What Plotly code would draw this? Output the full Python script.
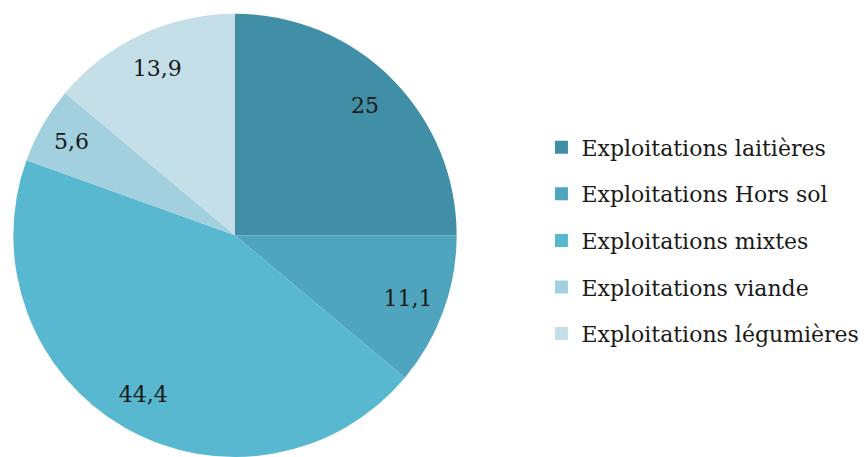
import plotly.graph_objects as go

categories = ["Exploitations laitières", "Exploitations Hors sol", "Exploitations mixtes",
              "Exploitations viande", "Exploitations légumières"]
values = [25, 11.1, 44.4, 5.6, 13.9]
colors = ["#418FA7", "#4FA5BD", "#57B8D0", "#A3D0DE", "#C5DFE9"]

FONT = "DejaVu Serif"
DOM = dict(x=[12/867, 458/867], y=[0, 0.97])

fig = go.Figure()
# coloured pie
fig.add_trace(go.Pie(
    labels=categories, values=values, sort=False, direction="clockwise", rotation=0,
    marker=dict(colors=colors, line=dict(width=0)),
    textinfo="none", domain=DOM, showlegend=False, hoverinfo="skip",
))
# transparent ring carrying the value labels (places them toward the rim)
fig.add_trace(go.Pie(
    labels=categories, values=values, sort=False, direction="clockwise", rotation=0,
    hole=0.66,
    marker=dict(colors=["rgba(0,0,0,0)"] * len(values), line=dict(width=0)),
    texttemplate="%{value}", textposition="inside", insidetextorientation="horizontal",
    textfont=dict(family=FONT, size=22, color="#1a1a1a"),
    domain=DOM, showlegend=False, hoverinfo="skip",
))
for i, (c, col) in enumerate(zip(categories, colors)):
    fig.add_trace(go.Scatter(
        x=[None], y=[None], mode="markers", name=c, legendgroup=f"g{i}",
        marker=dict(symbol="square", size=13, color=col), showlegend=True,
    ))

fig.update_layout(
    width=867, height=457, margin=dict(l=0, r=0, t=0, b=0),
    paper_bgcolor="white", plot_bgcolor="white", separators=", ",
    xaxis=dict(visible=False), yaxis=dict(visible=False),
    legend=dict(x=0.6245, xanchor="left", y=0.474, yanchor="middle",
                font=dict(family=FONT, size=22, color="#1a1a1a"),
                tracegroupgap=15, itemsizing="trace", bgcolor="rgba(0,0,0,0)"),
)
fig.write_html("out.html", config={"displayModeBar": False},
               post_script="document.body.style.margin='0';")
